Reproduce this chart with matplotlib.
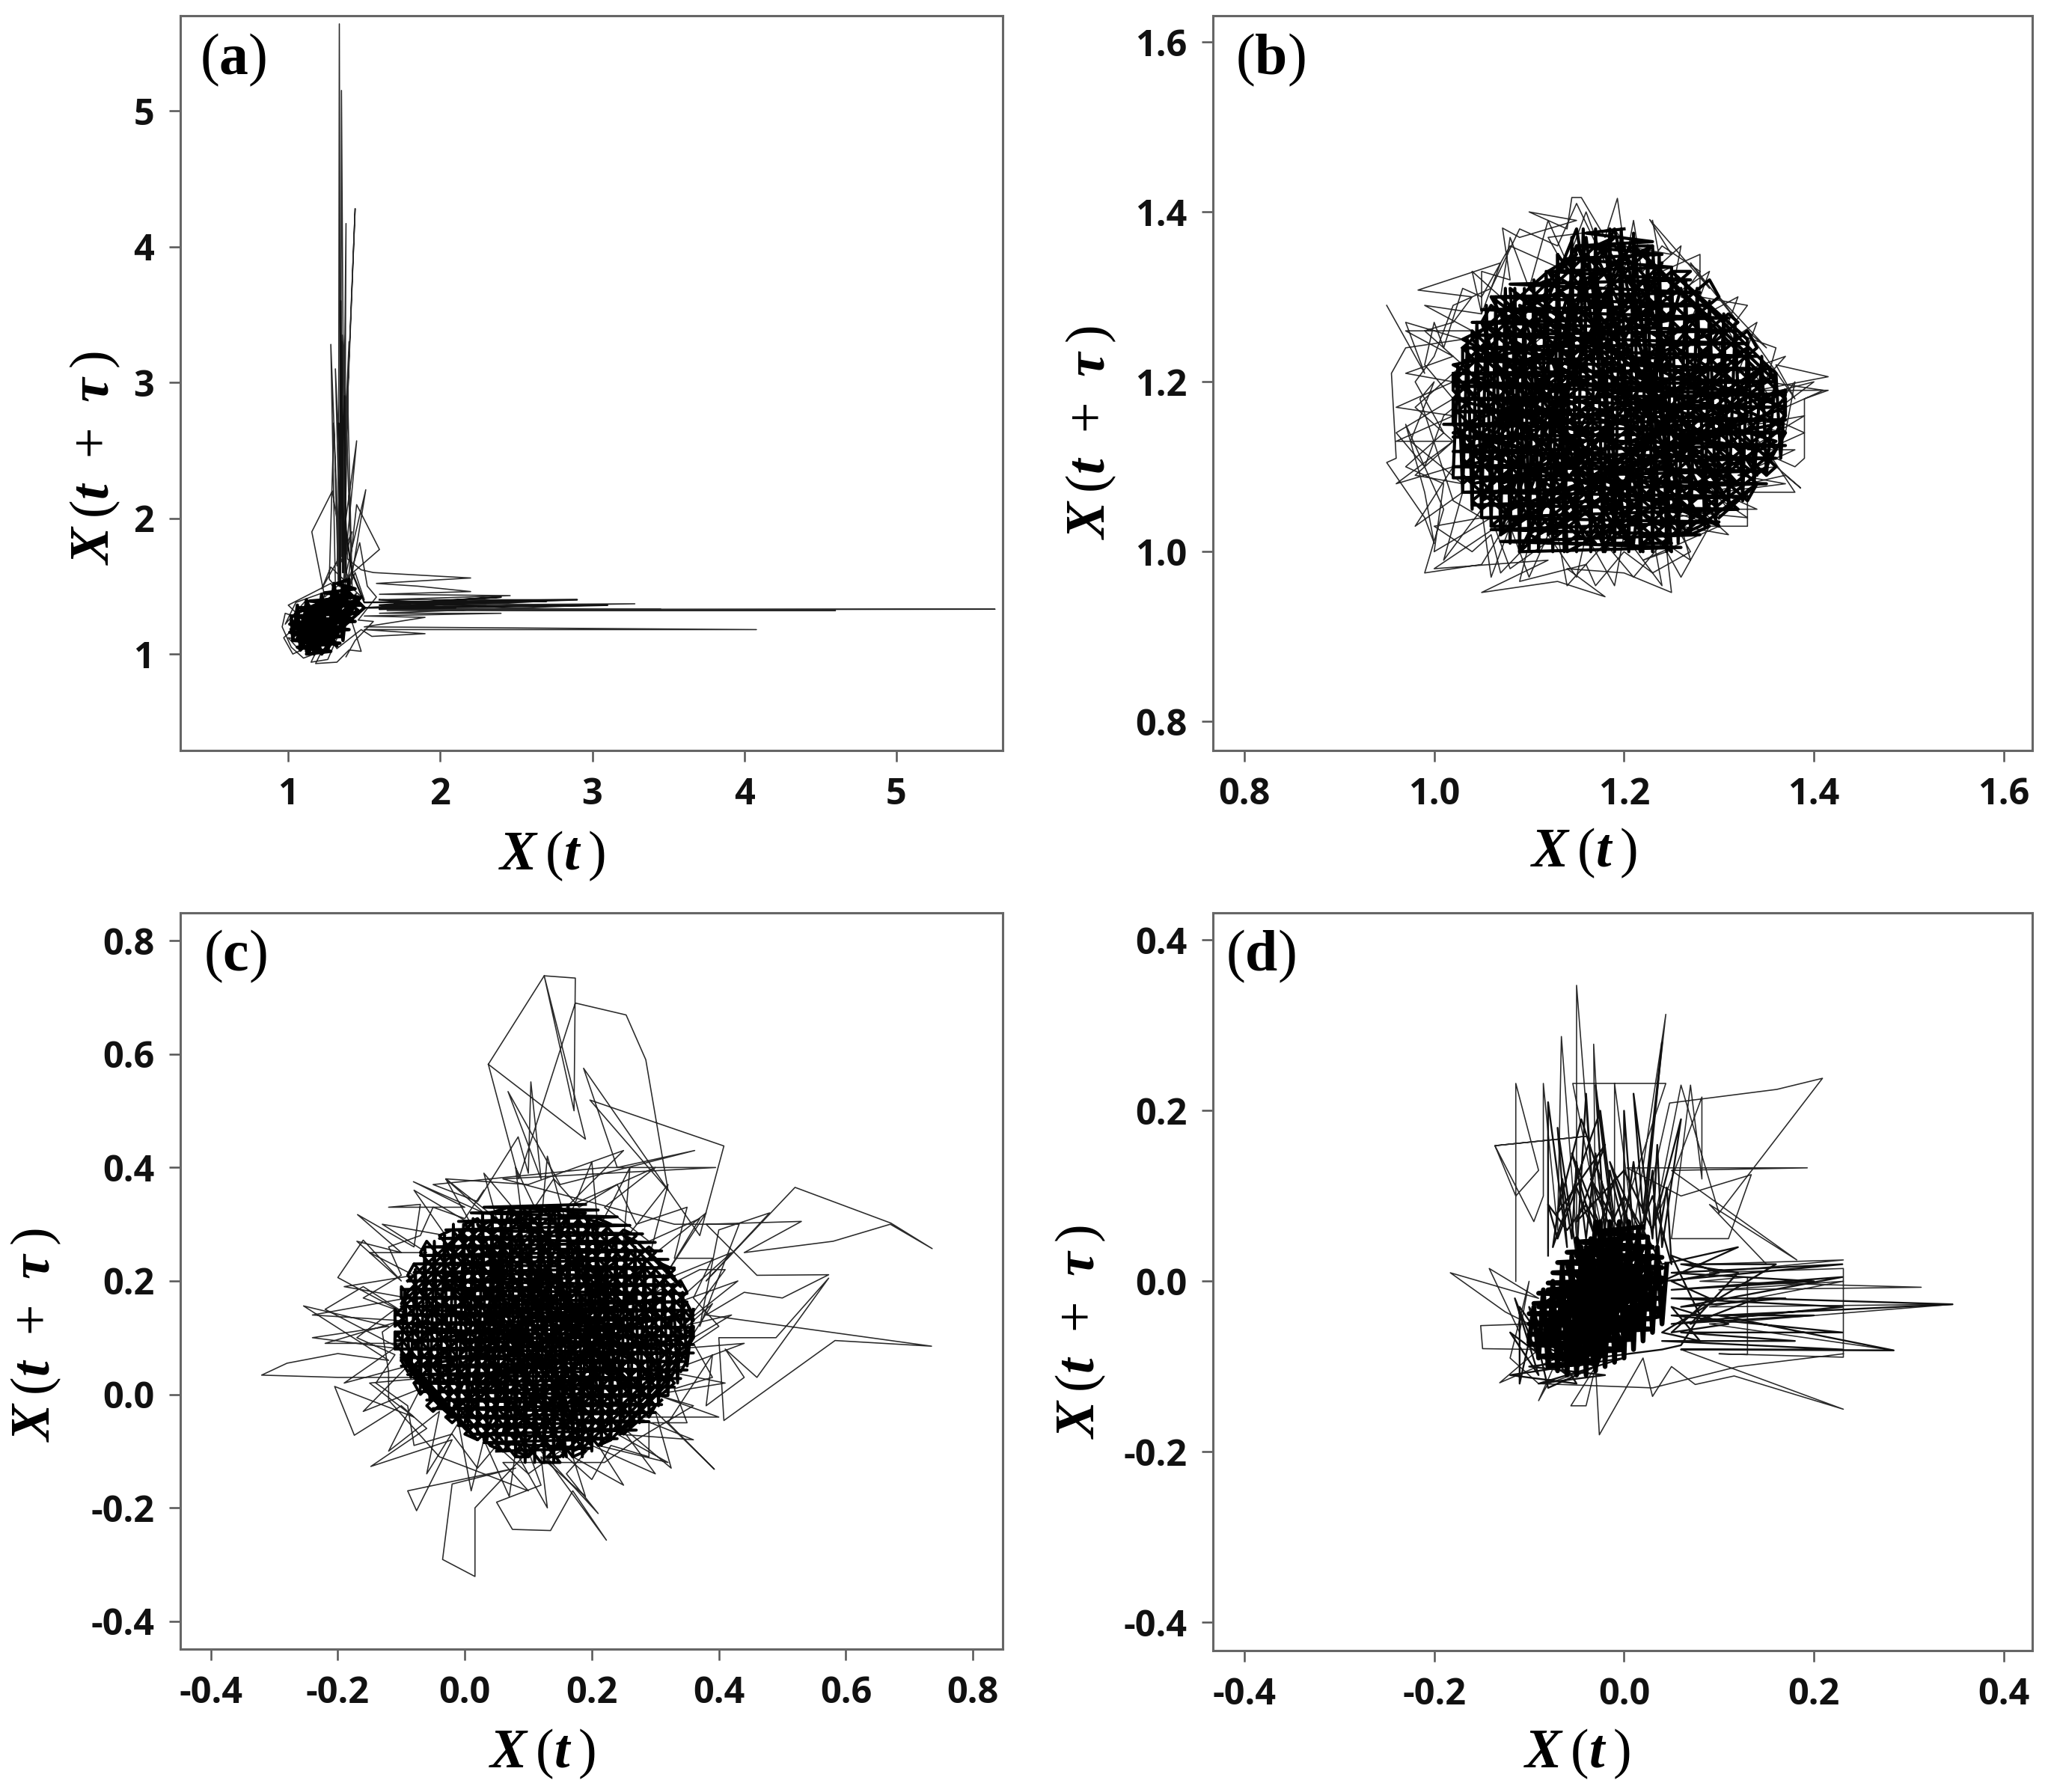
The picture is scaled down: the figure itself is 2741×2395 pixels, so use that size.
import numpy as np
import matplotlib
matplotlib.use('Agg')
import matplotlib.pyplot as plt

W, H = 2741, 2395
plt.rcParams['mathtext.fontset'] = 'custom'
plt.rcParams['mathtext.rm'] = 'Liberation Serif'
plt.rcParams['mathtext.bf'] = 'Liberation Serif:bold'
plt.rcParams['mathtext.bfit'] = 'Liberation Serif:italic:bold'

# panel a: thin trajectory, spikes along both arms
a_thin = [(1.20,1.22),(0.98,1.30),(0.96,1.20),(1.02,1.05),(1.10,0.97),(1.22,1.02),(1.18,0.93),(1.32,0.94),(1.40,1.03),(1.48,1.02),
 (1.33,1.55),(1.336,5.64),(1.345,1.50),(1.35,5.15),(1.37,1.60),(1.38,4.17),(1.36,2.0),(1.44,4.28),(1.34,1.55),(1.28,3.28),
 (1.31,1.50),(1.27,1.55),(1.30,2.70),(1.33,1.50),(1.39,2.95),(1.42,1.50),(1.36,3.35),(1.33,1.60),(1.45,2.57),(1.36,1.50),
 (1.51,2.21),(1.40,1.45),(1.29,2.20),(1.155,1.90),(1.24,1.42),(1.60,1.77),(1.45,2.10),(1.38,1.40),(1.31,3.10),(1.34,1.80),
 (1.40,3.30),(1.37,1.70),(1.42,1.90),(1.32,1.65),(1.36,2.50),(1.39,1.70),(1.48,1.62),(1.56,1.60),
 (2.20,1.56),(1.58,1.52),(1.85,1.50),(2.2,1.46),(1.6,1.44),(2.46,1.43),(1.62,1.40),(2.9,1.40),(1.7,1.36),(3.28,1.37),
 (1.6,1.34),(3.45,1.33),(1.65,1.32),(4.6,1.32),(2.0,1.325),(5.65,1.33),(1.6,1.33),(2.7,1.39),(1.55,1.38),(3.0,1.36),
 (1.6,1.30),(2.4,1.30),(1.5,1.28),(1.9,1.27),(1.5,1.20),(4.08,1.18),(1.5,1.18),(1.90,1.15),(1.55,1.13),(1.48,1.18),
 (1.32,1.04),(1.12,1.40),(0.98,1.22),(1.05,1.38),(1.25,1.46),(1.10,1.10),(1.00,1.12),(1.08,1.02),(1.45,1.45),(1.26,0.96),
 (1.15,0.94),(1.22,1.10),(1.03,1.00),(0.97,1.12),(1.10,1.25),(1.00,1.36),(1.14,1.44),(1.28,1.52),(1.36,1.38),(1.44,1.60),
 (1.50,1.40),(1.28,1.64),(1.22,1.48),(1.34,1.72),(1.40,1.55),(1.47,1.82),(1.52,1.50),(1.58,1.42),(1.46,1.25),(1.56,1.24),(1.44,1.10),(1.38,0.98)]
a_core = [(1.02,1.18),(1.40,1.30),(1.08,1.06),(1.30,1.42),(1.05,1.30),(1.32,1.06),(1.12,1.38),(1.22,1.00),(1.44,1.36),(1.06,1.12),
 (1.36,1.45),(1.18,1.03),(1.02,1.24),(1.34,1.20),(1.14,1.04),(1.28,1.40),(1.04,1.14),(1.42,1.26),(1.10,1.34),(1.26,1.04),
 (1.46,1.40),(1.16,1.30),(1.12,1.02),(1.38,1.42),(1.03,1.20),(1.30,1.10),(1.20,1.38),(1.08,1.18),(1.40,1.48),(1.24,1.08),
 (1.50,1.34),(1.36,1.50),(1.33,1.25),(1.46,1.32),(1.30,1.46),(1.18,1.16),(1.48,1.42),
 (1.12,1.00),(1.28,1.02),(1.06,1.05),(1.34,1.08),(1.03,1.10),(1.36,1.13),(1.01,1.16),(1.40,1.18),(1.01,1.22),(1.44,1.24),(1.03,1.28),
 (1.46,1.30),(1.07,1.34),(1.48,1.36),(1.14,1.39),(1.46,1.42),(1.24,1.45),(1.44,1.48),(1.32,1.52),(1.40,1.55),(1.36,1.10),(1.30,1.52),
 (1.26,1.02),(1.22,1.44),(1.17,1.00),(1.12,1.40),(1.08,1.03),(1.06,1.36),(1.03,1.10),(1.02,1.28)]
a_mid = [(1.34,1.5),(1.345,3.6),(1.36,1.6),(1.35,3.3),(1.34,2.0),(1.37,2.9),(1.38,1.6),(1.33,2.7),(1.36,2.0),(1.38,1.9),(1.42,1.6),
 (1.5,1.38),(2.9,1.40),(2.0,1.37),(2.7,1.39),(1.7,1.37),(2.4,1.42),(1.6,1.36),(2.1,1.34),(1.6,1.33),(2.2,1.38),(1.5,1.34),(3.1,1.36),(2.3,1.35),(1.6,1.40)]

# panel b: outer wander, fringe and the dense centre
b_thin = [(0.95,1.29),(0.99,1.21),(0.97,1.27),(1.03,1.25),(0.97,1.24),(0.955,1.21),(0.96,1.11),(0.95,1.105),(0.99,1.04),(1.00,1.01),
 (0.99,1.07),(0.97,1.15),(1.01,1.05),(0.99,0.975),(1.05,0.985),(1.08,1.04),(1.00,0.98),(1.12,0.99),(1.05,0.952),(1.13,0.965),
 (1.18,0.947),(1.14,0.98),(1.20,0.975),(1.25,0.952),(1.245,1.00),(1.22,0.99),(1.26,1.01),(1.30,1.03),(1.24,1.05),(1.33,1.04),
 (1.29,1.07),(1.37,1.09),(1.386,1.075),(1.34,1.12),(1.38,1.10),(1.39,1.11),(1.39,1.18),(1.415,1.19),(1.34,1.19),(1.415,1.206),
 (1.36,1.22),(1.38,1.18),(1.33,1.26),(1.35,1.24),(1.30,1.30),(1.32,1.27),(1.27,1.34),(1.29,1.31),(1.227,1.391),(1.25,1.35),
 (1.20,1.36),(1.193,1.416),(1.18,1.37),(1.155,1.417),(1.145,1.417),(1.14,1.38),(1.10,1.40),(1.15,1.39),(1.09,1.37),(1.072,1.381),
 (1.08,1.32),(1.05,1.33),(1.05,1.28),(1.07,1.34),(0.983,1.308),(1.04,1.30),(1.02,1.27),(0.99,1.26),(1.03,1.22),(0.98,1.17),
 (1.02,1.13),(0.98,1.09),(1.03,1.08),(0.975,1.13),(1.00,1.20),(0.985,1.18),(1.02,1.06),(1.05,1.04),(1.00,1.03),(1.04,1.00),
 (1.06,1.02),(1.07,0.975),(1.10,1.01),(1.09,0.965),(1.16,0.985),(1.17,0.96),(1.20,1.00),(1.23,0.975),(1.27,1.00),(1.25,1.04),
 (1.31,1.05),(1.28,1.09),(1.36,1.10),(1.33,1.15),(1.37,1.14),(1.38,1.20),(1.36,1.17),(1.32,1.24),(1.30,1.28),(1.26,1.30),
 (1.28,1.33),(1.24,1.36),(1.22,1.33),(1.19,1.38),(1.12,1.37),(1.14,1.33),(1.08,1.36),(1.05,1.30),(1.03,1.31),(1.01,1.24),
 (1.00,1.27),(0.99,1.22),(1.02,1.18),(0.96,1.14),(0.99,1.10),(1.01,1.16),
 (1.20,1.33),(1.21,1.39),(1.22,1.32),(1.26,1.36),(1.25,1.30),(1.29,1.33),(1.27,1.27),(1.32,1.30),(1.30,1.24),(1.34,1.27),
 (1.32,1.21),(1.37,1.23),(1.33,1.18),(1.40,1.20),(1.34,1.15),(1.39,1.16),(1.33,1.12),(1.38,1.12),(1.32,1.09),(1.37,1.08),
 (1.30,1.07),(1.34,1.05),(1.28,1.05),(1.31,1.02),(1.26,1.03),(1.27,0.99),(1.23,1.02),(1.24,0.96),(1.20,1.02),(1.19,0.96),
 (1.16,1.02),(1.15,0.97),(1.12,1.02),(1.10,0.97),(1.08,1.03),(1.06,0.97),(1.05,1.05),(1.01,0.99),(1.03,1.07),(0.98,1.03),
 (1.02,1.10),(0.96,1.08),(1.02,1.13),(0.96,1.13),(1.02,1.16),(0.96,1.17),(1.02,1.20),(0.97,1.21),(1.02,1.23),(0.97,1.26),
 (1.04,1.26),(0.99,1.29),(1.05,1.28),(1.04,1.33),(1.07,1.30),(1.08,1.37),(1.10,1.31),(1.12,1.39),(1.14,1.34),(1.16,1.40),(1.18,1.34),
 (1.15,1.41),(1.13,1.36),(1.09,1.38),(1.06,1.31),(1.02,1.29),(1.00,1.23),(0.98,1.20),(1.01,1.14),(0.97,1.10),(1.01,1.08),(1.00,1.00),
 (1.06,1.04),(1.08,0.98),(1.13,1.02),(1.14,0.96),(1.18,1.01),(1.21,0.97),(1.24,1.01),(1.26,0.97),(1.29,1.03),(1.33,1.03),(1.33,1.07),
 (1.38,1.07),(1.35,1.12),(1.39,1.14),(1.35,1.16),(1.41,1.19),(1.35,1.20),(1.36,1.24),(1.31,1.26),(1.33,1.29),(1.28,1.30),(1.28,1.35),(1.24,1.33),(1.23,1.39)]
b_core = [(1.02,1.18),(1.30,1.10),(1.06,1.30),(1.20,1.02),(1.16,1.37),(1.12,1.02),(1.35,1.20),(1.03,1.10),(1.24,1.34),(1.09,1.00),
 (1.33,1.24),(1.05,1.06),(1.19,1.38),(1.26,1.02),(1.04,1.24),(1.36,1.13),(1.14,1.00),(1.13,1.35),(1.31,1.06),(1.02,1.22),
 (1.28,1.28),(1.10,1.03),(1.08,1.31),(1.34,1.09),(1.18,1.36),(1.22,1.00),(1.03,1.15),(1.30,1.26),(1.16,1.01),(1.07,1.28),
 (1.37,1.17),(1.08,1.05),(1.21,1.37),(1.24,1.03),(1.02,1.20),(1.33,1.19),(1.12,1.33),(1.28,1.04),(1.05,1.14),(1.26,1.31),
 (1.18,1.00),(1.09,1.29),(1.36,1.15),(1.04,1.08),(1.15,1.38),(1.20,1.04),(1.35,1.22),(1.07,1.02),(1.14,1.30),(1.32,1.08),
 (1.03,1.25),(1.23,1.36),(1.25,1.00),(1.06,1.18),(1.34,1.12),(1.10,1.30),(1.19,1.02),(1.17,1.35),(1.29,1.07),(1.02,1.14),
 (1.31,1.22),(1.13,1.03),(1.05,1.27),(1.27,1.13),(1.22,1.32),(1.07,1.08),(1.37,1.19),(1.11,1.02),(1.15,1.36),(1.30,1.03),
 (1.04,1.20),(1.24,1.29),(1.21,1.01),(1.08,1.24),(1.33,1.16),(1.09,1.04),(1.20,1.36),(1.26,1.05),(1.03,1.12),(1.29,1.20)]
b_rows = [(1.09,1.00),(1.26,1.005),(1.07,1.012),(1.28,1.02),(1.06,1.026),(1.30,1.035),(1.05,1.04),(1.32,1.05),(1.04,1.055),(1.33,1.065),
 (1.03,1.07),(1.35,1.08),(1.02,1.087),(1.35,1.095),(1.02,1.10),(1.36,1.11),(1.02,1.118),(1.37,1.125),(1.02,1.135),(1.37,1.14),
 (1.01,1.15),(1.37,1.155),(1.02,1.165),(1.36,1.17),(1.02,1.18),(1.37,1.185),(1.02,1.195),(1.36,1.20),(1.02,1.21),(1.35,1.215),
 (1.03,1.225),(1.34,1.23),(1.03,1.24),(1.33,1.245),(1.04,1.255),(1.32,1.26),(1.04,1.27),(1.31,1.275),(1.05,1.285),(1.29,1.29),
 (1.06,1.30),(1.28,1.305),(1.08,1.315),(1.27,1.32),(1.12,1.33),(1.25,1.335),(1.14,1.345),(1.24,1.35),(1.15,1.36),(1.23,1.365),(1.16,1.375),(1.20,1.38)]
b_cols = [(1.02,1.09),(1.025,1.22),(1.03,1.07),(1.035,1.25),(1.04,1.05),(1.045,1.27),(1.05,1.04),(1.055,1.29),(1.06,1.03),(1.065,1.30),
 (1.07,1.02),(1.075,1.31),(1.08,1.01),(1.085,1.31),(1.09,1.00),(1.095,1.31),(1.10,1.00),(1.105,1.32),(1.11,1.00),(1.118,1.33),
 (1.125,1.00),(1.13,1.35),(1.137,1.00),(1.145,1.37),(1.15,1.00),(1.157,1.38),(1.165,1.00),(1.17,1.38),(1.178,1.00),(1.185,1.38),
 (1.19,1.00),(1.197,1.38),(1.205,1.00),(1.21,1.375),(1.217,1.00),(1.225,1.36),(1.23,1.00),(1.237,1.35),(1.245,1.00),(1.25,1.335),
 (1.257,1.01),(1.265,1.32),(1.27,1.02),(1.277,1.31),(1.285,1.03),(1.29,1.295),(1.297,1.04),(1.305,1.28),(1.31,1.05),(1.317,1.265),
 (1.325,1.06),(1.33,1.25),(1.337,1.08),(1.345,1.23),(1.35,1.09),(1.36,1.21),(1.365,1.11),(1.37,1.19)]
b_diag1 = [(1.03,1.24),(1.12,1.33),(1.15,1.35),(1.03,1.22),(1.02,1.20),(1.17,1.36),(1.19,1.37),(1.02,1.18),(1.02,1.16),(1.21,1.36),
 (1.23,1.36),(1.03,1.14),(1.03,1.12),(1.25,1.33),(1.27,1.33),(1.03,1.10),(1.03,1.08),(1.29,1.32),(1.30,1.30),(1.04,1.06),
 (1.05,1.05),(1.31,1.28),(1.32,1.27),(1.06,1.03),(1.08,1.03),(1.33,1.26),(1.34,1.24),(1.10,1.02),(1.12,1.01),(1.35,1.22),
 (1.36,1.21),(1.14,1.01),(1.16,1.01),(1.36,1.19),(1.37,1.18),(1.18,1.01),(1.20,1.01),(1.37,1.16),(1.36,1.14),(1.22,1.01),
 (1.24,1.01),(1.36,1.12),(1.35,1.10),(1.26,1.02),(1.28,1.03),(1.34,1.08),(1.33,1.07),(1.30,1.04)]
b_diag2 = [(1.03,1.09),(1.07,1.05),(1.09,1.03),(1.03,1.11),(1.03,1.13),(1.11,1.03),(1.13,1.02),(1.02,1.15),(1.02,1.17),(1.15,1.02),
 (1.17,1.01),(1.02,1.19),(1.02,1.21),(1.19,1.01),(1.21,1.01),(1.03,1.22),(1.03,1.24),(1.23,1.01),(1.25,1.01),(1.04,1.25),
 (1.04,1.26),(1.27,1.02),(1.29,1.03),(1.05,1.27),(1.06,1.29),(1.30,1.05),(1.32,1.05),(1.07,1.30),(1.09,1.30),(1.33,1.06),
 (1.34,1.08),(1.10,1.31),(1.12,1.32),(1.35,1.09),(1.36,1.10),(1.14,1.34),(1.15,1.36),(1.36,1.12),(1.37,1.14),(1.17,1.36),
 (1.19,1.36),(1.37,1.16),(1.37,1.18),(1.21,1.36),(1.23,1.34),(1.36,1.20),(1.35,1.22),(1.25,1.33),(1.27,1.31),(1.33,1.25),(1.31,1.27)]

# panel c
c_thin = [(0.037,0.582),(0.125,0.738),(0.174,0.734),(0.172,0.50),(0.125,0.738),(0.19,0.45),(0.037,0.582),(0.085,0.38),(0.174,0.69),(0.254,0.669),
 (0.285,0.59),(0.305,0.459),(0.32,0.36),(0.197,0.519),(0.408,0.438),(0.37,0.28),(0.187,0.575),(0.24,0.40),(0.362,0.43),(0.15,0.37),
 (0.068,0.534),(0.12,0.38),(0.104,0.551),(0.10,0.39),(0.084,0.454),(0.02,0.34),(-0.05,0.37),(0.22,0.40),(0.395,0.40),(0.06,0.38),
 (0.33,0.30),(0.432,0.30),(0.37,0.12),(0.40,0.29),(0.48,0.32),(0.38,0.20),(0.52,0.365),(0.671,0.302),(0.736,0.257),(0.67,0.30),
 (0.58,0.27),(0.44,0.25),(0.53,0.305),(0.38,0.30),(0.46,0.21),(0.573,0.211),(0.50,0.17),(0.44,0.18),(0.38,0.14),(0.735,0.085),
 (0.583,0.095),(0.408,-0.046),(0.40,0.10),(0.49,0.10),(0.573,0.205),(0.46,0.03),(0.41,0.08),(0.44,0.03),(0.38,-0.02),(0.39,0.07),
 (0.32,-0.05),(0.393,-0.132),(0.30,-0.03),(0.325,-0.13),(0.24,-0.05),(0.30,-0.14),(0.20,-0.09),(0.16,-0.14),(0.21,-0.21),(0.12,-0.10),
 (0.223,-0.257),(0.17,-0.17),(0.135,-0.24),(0.075,-0.238),(0.05,-0.19),(0.12,-0.16),(0.10,-0.10),(0.016,-0.20),(0.016,-0.321),(-0.035,-0.291),
 (-0.02,-0.158),(0.08,-0.13),(-0.09,-0.17),(-0.076,-0.205),(-0.02,-0.08),(-0.148,-0.127),(-0.06,-0.06),(-0.10,-0.02),(-0.174,-0.072),(-0.205,0.014),
 (-0.08,-0.04),(-0.15,0.02),(-0.05,0.03),(-0.20,0.03),(-0.32,0.034),(-0.28,0.055),(-0.20,0.072),(-0.12,0.06),(-0.254,0.156),(-0.12,0.12),
 (-0.24,0.10),(-0.10,0.08),(-0.22,0.15),(-0.16,0.19),(-0.09,0.14),(-0.20,0.206),(-0.16,0.272),(-0.10,0.20),(-0.17,0.27),(-0.10,0.25),
 (-0.169,0.317),(-0.08,0.26),(-0.07,0.335),(-0.12,0.33),(0.0,0.33),(-0.081,0.375),(0.03,0.32),(-0.03,0.38),(0.10,0.37),(0.25,0.43),
 (0.16,0.33),(0.30,0.40),(0.22,0.33),(0.29,0.27),(0.37,0.31),(0.30,0.18),(0.37,0.22),(0.41,0.22),(0.33,0.10),(0.39,0.16),
 (0.30,0.00),(0.36,-0.02),(0.27,-0.08),(0.22,-0.12),(0.06,-0.12),(0.10,-0.17),(-0.04,-0.11),(-0.12,-0.01),(-0.12,0.04),(-0.13,0.11),
 (0.12,0.30),(0.13,0.42),(0.16,0.30),(0.20,0.41),(0.21,0.29),(0.26,0.40),(0.25,0.27),(0.32,0.37),(0.29,0.24),(0.38,0.32),
 (0.31,0.20),(0.42,0.25),(0.33,0.16),(0.43,0.20),(0.34,0.12),(0.42,0.14),(0.33,0.08),(0.44,0.09),(0.32,0.04),(0.41,0.02),
 (0.30,0.00),(0.40,-0.04),(0.27,-0.04),(0.36,-0.08),(0.24,-0.07),(0.32,-0.12),(0.21,-0.09),(0.25,-0.16),(0.17,-0.11),(0.19,-0.18),
 (0.12,-0.11),(0.13,-0.20),(0.08,-0.10),(0.07,-0.18),(0.03,-0.08),(0.01,-0.17),(-0.01,-0.05),(-0.06,-0.14),(-0.04,-0.03),(-0.12,-0.10),
 (-0.07,0.01),(-0.16,-0.03),(-0.09,0.05),(-0.19,0.02),(-0.10,0.09),(-0.22,0.09),(-0.10,0.13),(-0.24,0.14),(-0.09,0.17),(-0.19,0.19),
 (-0.08,0.21),(-0.15,0.25),(-0.06,0.25),(-0.13,0.30),(-0.03,0.28),(-0.08,0.36),(0.01,0.30),(-0.03,0.38),(0.05,0.31),(0.03,0.39),(0.09,0.31),(0.08,0.40),
 (0.11,0.33),(0.14,0.38),(0.18,0.33),(0.24,0.37),(0.27,0.30),(0.35,0.33),(0.33,0.24),(0.39,0.24),(0.36,0.17),(0.40,0.12),(0.36,0.09),(0.39,0.03),
 (0.33,0.01),(0.35,-0.05),(0.29,-0.05),(0.29,-0.11),(0.23,-0.09),(0.20,-0.15),(0.15,-0.10),(0.10,-0.14),(0.05,-0.09),(0.02,-0.13),(-0.02,-0.07),(-0.08,-0.09),
 (-0.09,-0.02),(-0.14,0.02),(-0.11,0.07),(-0.17,0.10),(-0.11,0.15),(-0.16,0.17),(-0.10,0.21),(-0.12,0.26),(-0.07,0.28),(-0.05,0.33),(0.00,0.31),(0.03,0.36)]
c_core = [(-0.08,0.12),(0.30,0.08),(0.02,0.30),(0.18,-0.08),(0.14,0.33),(0.06,-0.07),(0.34,0.14),(-0.07,0.05),(0.24,0.28),(0.10,-0.11),
 (-0.03,0.26),(0.32,0.02),(0.10,0.32),(-0.02,-0.03),(0.28,0.22),(0.14,-0.10),(-0.07,0.18),(0.25,-0.04),(0.20,0.30),(0.00,-0.05),
 (0.07,0.33),(0.33,0.07),(-0.05,0.22),(0.22,-0.06),(0.16,0.31),(0.03,-0.08),(0.31,0.17),(-0.08,0.09),(0.12,0.28),(0.16,-0.11),
 (-0.01,0.29),(0.29,-0.01),(0.04,0.26),(0.12,-0.08),(0.26,0.25),(-0.05,0.02),(0.35,0.10),(0.08,0.31),(0.20,-0.09),(-0.06,0.15),
 (0.27,0.12),(0.02,0.02),(0.18,0.26),(0.24,-0.02),(-0.02,0.20),(0.14,0.04),(0.05,0.28),(0.28,0.05),(0.10,0.20),(0.17,-0.05),
 (0.00,0.14),(0.22,0.16),(0.06,0.03),(0.12,0.24),(0.26,0.01),(0.03,0.18),(0.19,0.10),(0.08,-0.04),(0.15,0.20),(0.21,0.03)]
c_rows = [(0.05,-0.10),(0.20,-0.095),(0.03,-0.085),(0.24,-0.078),(0.01,-0.07),(0.27,-0.063),(-0.01,-0.055),(0.29,-0.048),(-0.03,-0.04),(0.30,-0.032),
 (-0.05,-0.025),(0.31,-0.018),(-0.06,-0.01),(0.32,-0.002),(-0.07,0.005),(0.33,0.013),(-0.08,0.02),(0.34,0.028),(-0.09,0.035),(0.35,0.043),
 (-0.10,0.05),(0.35,0.058),(-0.10,0.065),(0.36,0.073),(-0.11,0.08),(0.36,0.088),(-0.11,0.095),(0.36,0.103),(-0.11,0.11),(0.36,0.118),
 (-0.11,0.125),(0.36,0.133),(-0.11,0.14),(0.36,0.148),(-0.10,0.155),(0.35,0.163),(-0.10,0.17),(0.35,0.178),(-0.10,0.185),(0.34,0.193),
 (-0.09,0.20),(0.33,0.208),(-0.08,0.215),(0.33,0.223),(-0.08,0.23),(0.32,0.238),(-0.07,0.245),(0.31,0.253),(-0.06,0.26),(0.30,0.268),
 (-0.04,0.275),(0.28,0.283),(-0.03,0.29),(0.26,0.298),(-0.01,0.305),(0.24,0.313),(0.01,0.32),(0.21,0.325),(0.03,0.33),(0.19,0.335)]
c_cols = [(-0.10,0.06),(-0.095,0.18),(-0.085,0.03),(-0.078,0.22),(-0.07,0.01),(-0.063,0.26),(-0.055,-0.01),(-0.048,0.27),(-0.04,-0.02),(-0.032,0.28),
 (-0.025,-0.03),(-0.018,0.30),(-0.01,-0.05),(-0.002,0.30),(0.005,-0.06),(0.013,0.31),(0.02,-0.07),(0.028,0.32),(0.035,-0.08),(0.043,0.32),
 (0.05,-0.09),(0.058,0.33),(0.065,-0.10),(0.073,0.33),(0.08,-0.11),(0.088,0.33),(0.095,-0.12),(0.103,0.33),(0.11,-0.12),(0.118,0.33),
 (0.125,-0.12),(0.133,0.33),(0.14,-0.12),(0.148,0.33),(0.155,-0.11),(0.163,0.33),(0.17,-0.11),(0.178,0.32),(0.185,-0.11),(0.193,0.31),
 (0.20,-0.10),(0.208,0.30),(0.215,-0.09),(0.223,0.29),(0.23,-0.08),(0.238,0.28),(0.245,-0.07),(0.253,0.27),(0.26,-0.06),(0.268,0.26),
 (0.275,-0.05),(0.283,0.24),(0.29,-0.03),(0.298,0.22),(0.305,-0.02),(0.313,0.21),(0.32,0.00),(0.328,0.19),(0.335,0.02),(0.343,0.18),(0.35,0.05),(0.36,0.15)]
c_diag1 = [(-0.09,0.20),(-0.01,0.28),(0.01,0.30),(-0.09,0.18),(-0.10,0.16),(0.03,0.30),(0.05,0.31),(-0.11,0.14),(-0.11,0.12),(0.08,0.32),
 (0.10,0.32),(-0.11,0.10),(-0.11,0.08),(0.13,0.33),(0.15,0.33),(-0.10,0.06),(-0.09,0.04),(0.17,0.32),(0.19,0.32),(-0.08,0.02),
 (-0.07,0.00),(0.21,0.31),(0.23,0.30),(-0.06,-0.02),(-0.05,-0.03),(0.25,0.29),(0.27,0.28),(-0.03,-0.04),(-0.02,-0.05),(0.29,0.26),
 (0.30,0.25),(0.00,-0.07),(0.02,-0.08),(0.31,0.23),(0.33,0.22),(0.04,-0.09),(0.06,-0.10),(0.34,0.20),(0.35,0.18),(0.08,-0.10),
 (0.10,-0.11),(0.35,0.16),(0.36,0.14),(0.13,-0.11),(0.15,-0.11),(0.36,0.12),(0.36,0.10),(0.17,-0.10),(0.19,-0.09),(0.35,0.08),
 (0.34,0.06),(0.21,-0.09),(0.23,-0.08),(0.33,0.04),(0.32,0.02),(0.25,-0.06),(0.27,-0.05),(0.31,-0.01)]
c_diag2 = [(-0.08,0.03),(-0.04,-0.02),(-0.02,-0.04),(-0.09,0.05),(-0.10,0.07),(0.00,-0.06),(0.02,-0.08),(-0.11,0.09),(-0.11,0.11),(0.04,-0.09),
 (0.06,-0.10),(-0.11,0.13),(-0.11,0.15),(0.08,-0.11),(0.10,-0.11),(-0.10,0.17),(-0.10,0.19),(0.12,-0.12),(0.15,-0.12),(-0.09,0.21),
 (-0.08,0.23),(0.17,-0.11),(0.19,-0.10),(-0.07,0.25),(-0.06,0.27),(0.21,-0.09),(0.23,-0.08),(-0.04,0.28),(-0.02,0.29),(0.25,-0.07),
 (0.27,-0.05),(0.00,0.30),(0.02,0.31),(0.29,-0.04),(0.30,-0.02),(0.04,0.32),(0.07,0.33),(0.31,0.00),(0.33,0.02),(0.09,0.33),
 (0.12,0.33),(0.34,0.04),(0.35,0.06),(0.14,0.33),(0.17,0.32),(0.35,0.08),(0.36,0.10),(0.19,0.31),(0.22,0.30),(0.36,0.13),
 (0.35,0.16),(0.25,0.28),(0.27,0.27),(0.34,0.19),(0.32,0.22),(0.29,0.25)]

# panel d
d_thin = [(-0.114,0.0),(-0.114,0.232),(-0.09,0.13),(-0.114,0.10),(-0.136,0.159),(-0.04,0.17),(-0.136,0.159),(-0.095,0.07),(-0.085,0.10),(-0.085,0.232),
 (-0.07,0.06),(-0.066,0.287),(-0.05,0.05),(-0.05,0.347),(-0.03,0.06),(-0.032,0.278),(-0.02,0.04),(-0.054,0.232),(0.044,0.232),(-0.01,0.05),
 (-0.01,0.232),(0.01,0.06),(0.044,0.313),(0.02,0.07),(0.048,0.209),(0.161,0.225),(0.209,0.238),(0.10,0.08),(0.06,0.23),(0.03,0.06),
 (0.082,0.216),(0.082,0.12),(0.07,0.23),(0.05,0.05),(0.11,0.05),(0.134,0.125),(0.06,0.10),(0.003,0.133),(0.193,0.133),(0.05,0.13),
 (0.182,0.025),(0.09,0.09),(0.15,0.02),(0.08,0.02),(0.231,0.025),(0.09,0.01),(0.231,0.015),(0.231,-0.089),(0.10,-0.085),(0.13,-0.086),
 (0.13,0.005),(0.08,0.0),(0.313,-0.007),(0.10,-0.01),(0.231,0.0),(0.09,-0.03),(0.346,-0.027),(0.09,-0.05),(0.284,-0.081),(0.06,-0.08),
 (0.231,-0.15),(0.116,-0.111),(0.075,-0.121),(0.05,-0.10),(0.03,-0.135),(0.02,-0.09),(-0.026,-0.18),(-0.03,-0.10),(-0.056,-0.146),(-0.04,-0.146),
 (-0.03,-0.10),(-0.08,-0.12),(-0.09,-0.14),(-0.07,-0.09),(-0.131,-0.119),(-0.09,-0.08),(-0.149,-0.079),(-0.151,-0.052),(-0.10,-0.05),(-0.125,-0.036),
 (-0.183,0.01),(-0.09,-0.02),(-0.142,0.015),(-0.11,-0.06),(-0.10,0.0),(-0.12,-0.09),(-0.09,-0.12),(0.03,-0.125),(0.12,-0.10),(0.231,-0.085)]
d_mid = [(-0.08,0.03),(-0.08,0.21),(-0.06,0.04),(-0.07,0.18),(-0.05,0.03),(-0.04,0.22),(-0.03,0.05),(-0.055,0.15),(-0.02,0.05),(-0.03,0.23),
 (-0.01,0.05),(-0.035,0.12),(0.00,0.05),(0.00,0.20),(0.01,0.05),(-0.015,0.14),(0.02,0.05),(0.04,0.28),(0.02,0.08),(0.01,0.22),(0.03,0.05),
 (0.035,0.16),(0.04,0.04),(0.06,0.19),(0.03,0.06),(0.00,0.13),(-0.05,0.07),(-0.02,0.16),(-0.07,0.08),(-0.045,0.19),(-0.01,0.07),(-0.025,0.20),
 (-0.075,0.04),(-0.065,0.12),(-0.055,0.05),(-0.05,0.14),(-0.04,0.05),(-0.03,0.15),(-0.02,0.06),(-0.015,0.13),(0.00,0.06),(0.01,0.14),(0.02,0.05),(0.03,0.13),
 (0.035,0.04),(0.045,0.11),(0.05,0.02),(0.03,0.10),(0.01,0.04),(-0.01,0.12),(-0.03,0.05),(-0.05,0.11),(-0.07,0.05),(-0.08,0.09),(-0.06,0.06),(-0.04,0.09),(-0.02,0.05),(0.00,0.10),(0.02,0.06),
 (0.04,0.02),(0.12,0.04),(0.04,0.0),(0.23,0.02),(0.05,0.01),(0.20,0.00),(0.05,-0.01),(0.23,0.005),(0.06,-0.03),(0.17,-0.02),(0.05,-0.02),
 (0.23,-0.03),(0.05,-0.05),(0.20,-0.04),(0.05,-0.04),(0.23,-0.06),(0.06,-0.06),(0.18,-0.07),(0.04,-0.07),(0.23,-0.08),(0.06,-0.08),(0.284,-0.081),
 (0.10,-0.04),(0.346,-0.027),(0.14,-0.02),(0.07,-0.05),(0.12,0.01),(0.06,0.02),(0.16,0.02),(0.04,-0.06),
 (0.08,-0.07),(0.05,-0.03),(0.11,-0.05),(0.05,-0.06),(0.09,-0.02),(0.05,0.00),(0.10,0.01),(0.05,0.03),(0.08,-0.04),(0.06,-0.075),(0.04,-0.08),
 (-0.10,-0.10),(-0.02,-0.11),(-0.09,-0.12),(0.00,-0.09),(-0.12,-0.11),(-0.05,-0.12),(-0.10,-0.03),(-0.08,-0.125),(-0.03,-0.10),(-0.10,-0.07),(-0.11,-0.12),
 (-0.11,-0.03),(-0.06,-0.11),(-0.12,-0.06),(-0.09,-0.11),(-0.115,-0.02),(-0.09,-0.09)]
d_core = [(-0.09,-0.05),(0.03,0.01),(-0.06,-0.10),(0.00,0.06),(-0.04,-0.09),(-0.02,0.06),(-0.08,-0.07),(0.04,-0.04),(-0.05,0.03),(0.01,-0.07),
 (-0.06,0.02),(-0.03,-0.10),(0.02,0.04),(-0.09,-0.03),(0.03,-0.02),(-0.07,-0.09),(-0.01,0.05),(-0.02,-0.09),(-0.05,0.05),(0.00,-0.08),
 (-0.08,-0.01),(0.04,0.00),(-0.05,-0.10),(0.01,0.03),(-0.09,-0.07),(0.02,-0.05),(-0.03,0.07),(-0.04,-0.08),(0.03,0.03),(-0.07,-0.04),
 (-0.01,0.02),(-0.06,-0.08),(0.02,-0.01),(-0.04,0.04),(-0.02,-0.06),(-0.07,-0.02),(0.01,0.00),(-0.05,-0.06),(-0.02,0.03),(-0.03,-0.03)]
d_rows = [(-0.08,-0.10),(-0.03,-0.095),(-0.09,-0.088),(0.00,-0.08),(-0.10,-0.074),(0.01,-0.068),(-0.10,-0.062),(0.03,-0.056),(-0.10,-0.05),(0.03,-0.044),
 (-0.10,-0.038),(0.04,-0.032),(-0.095,-0.026),(0.04,-0.02),(-0.09,-0.014),(0.04,-0.008),(-0.08,-0.002),(0.04,0.004),(-0.075,0.01),(0.04,0.016),
 (-0.07,0.022),(0.04,0.028),(-0.06,0.034),(0.03,0.04),(-0.05,0.046),(0.025,0.052),(-0.03,0.058),(0.02,0.064)]
d_cols = [(-0.10,-0.07),(-0.095,-0.03),(-0.09,-0.09),(-0.085,-0.01),(-0.08,-0.10),(-0.075,0.00),(-0.07,-0.105),(-0.065,0.02),(-0.06,-0.11),(-0.055,0.03),
 (-0.05,-0.11),(-0.045,0.04),(-0.04,-0.11),(-0.035,0.05),(-0.03,-0.105),(-0.025,0.07),(-0.02,-0.10),(-0.015,0.07),(-0.01,-0.095),(-0.005,0.07),
 (0.00,-0.09),(0.005,0.07),(0.01,-0.08),(0.015,0.06),(0.02,-0.07),(0.025,0.05),(0.03,-0.06),(0.035,0.04),(0.04,-0.05),(0.045,0.02)]

a_xt, a_yt = [1, 2, 3, 4, 5], [1, 2, 3, 4, 5]
b_xt = b_yt = [0.8, 1.0, 1.2, 1.4, 1.6]
c_xt = c_yt = [-0.4, -0.2, 0.0, 0.2, 0.4, 0.6, 0.8]
d_xt = d_yt = [-0.4, -0.2, 0.0, 0.2, 0.4]

# box in px, limits, panel label px, xlabel px, ylabel px
panels = [
    ('a', (241, 1340, 21, 1003), (0.29, 5.70), (0.29, 5.70), a_xt, a_yt, '%d', (a_thin, [a_mid], [a_core]), (267, 80), (738, 1144), (127, 612)),
    ('b', (1621, 2716, 21, 1003), (0.767, 1.630), (0.766, 1.631), b_xt, b_yt, '%.1f', (b_thin, [], [b_core, b_rows, b_cols, b_diag1, b_diag2]), (1651, 80), (2117, 1140), (1457, 578)),
    ('c', (241, 1340, 1220, 2204), (-0.448, 0.847), (-0.449, 0.849), c_xt, c_yt, '%.1f', (c_thin, [], [c_core, c_rows, c_cols, c_diag1, c_diag2]), (272, 1278), (725, 2343), (48, 1784)),
    ('d', (1621, 2716, 1220, 2206), (-0.433, 0.430), (-0.433, 0.432), d_xt, d_yt, '%.1f', (d_thin, [d_mid], [d_core, d_rows, d_cols]), (1638, 1278), (2108, 2343), (1444, 1780)),
]
core_lw = {'a': 3.2, 'b': 3.0, 'c': 2.8, 'd': 4.6}

fig = plt.figure(figsize=(W / 100, H / 100), dpi=100)
for name, box, xl, yl, xt, yt, fmt, (thin, mids, cores), lab, xlab, ylab in panels:
    l, r, t, b = box
    ax = fig.add_axes([l / W, 1 - b / H, (r - l) / W, (b - t) / H])
    ax.plot(*np.array(thin).T, color='#2a2a2a', lw=1.15)
    for mid in mids:
        ax.plot(*np.array(mid).T, color='#111111', lw=1.7)
    for core in cores:
        ax.plot(*np.array(core).T, color='black', lw=core_lw[name])
    ax.set_xlim(xl)
    ax.set_ylim(yl)
    ax.set_xticks(xt)
    ax.set_yticks(yt)
    ax.set_xticklabels([fmt % v for v in xt], family='Open Sans', weight='bold', size=35)
    ax.set_yticklabels([fmt % v for v in yt], family='Open Sans', weight='bold', size=35)
    ax.tick_params(length=11, width=1.8, color='#555555', labelcolor='#111111', pad=14)
    for s in ax.spines.values():
        s.set_color('#666666')
        s.set_linewidth(2.2)
    fig.text(lab[0] / W, 1 - lab[1] / H, r'($\mathbf{%s}$)' % name, family='Liberation Serif', size=56, va='center', ha='left')
    fig.text(xlab[0] / W, 1 - xlab[1] / H, r'$\mathbfit{X}\,(\mathbfit{t}\,)$', size=53, ha='center', va='center')
    fig.text(ylab[0] / W, 1 - ylab[1] / H, r'$\mathbfit{X}\,(\mathbfit{t}\;+\;\mathbfit{τ}\,)$', size=53, ha='center', va='center', rotation=90)

fig.savefig('out.png', dpi=100)
